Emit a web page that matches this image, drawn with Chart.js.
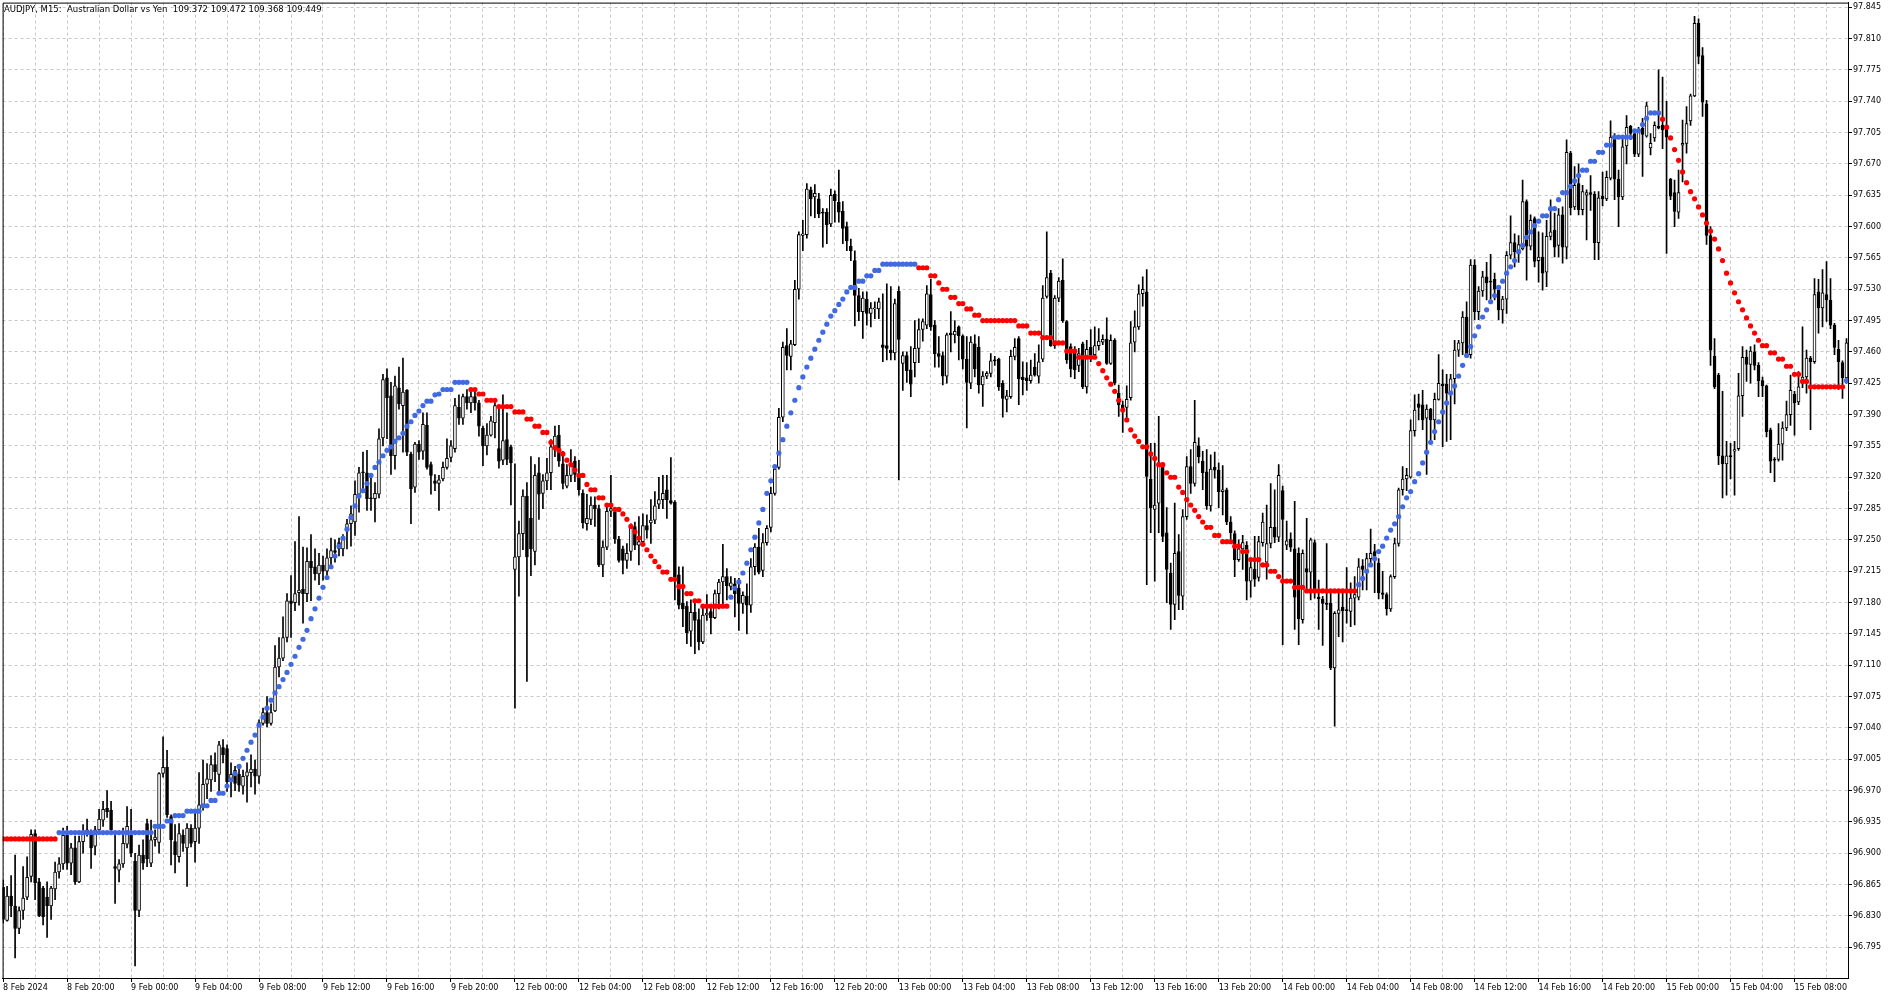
<!DOCTYPE html>
<html><head><meta charset="utf-8">
<script src="https://cdn.jsdelivr.net/npm/chart.js@4.4.1/dist/chart.umd.min.js"></script>
<style>html,body{margin:0;padding:0;background:#fff;}#wrap{width:1900px;height:1000px;position:relative;}</style>
</head><body><div id="wrap"><canvas id="c"></canvas></div>
<script>
const symbolTitle = 'AUDJPY, M15:  Australian Dollar vs Yen  109.372 109.472 109.368 109.449';

// one label every 16 bars (4 hours of M15 bars)
const timeLabels = ['8 Feb 2024','8 Feb 20:00','9 Feb 00:00','9 Feb 04:00','9 Feb 08:00','9 Feb 12:00','9 Feb 16:00','9 Feb 20:00',
  '12 Feb 00:00','12 Feb 04:00','12 Feb 08:00','12 Feb 12:00','12 Feb 16:00','12 Feb 20:00',
  '13 Feb 00:00','13 Feb 04:00','13 Feb 08:00','13 Feb 12:00','13 Feb 16:00','13 Feb 20:00',
  '14 Feb 00:00','14 Feb 04:00','14 Feb 08:00','14 Feb 12:00','14 Feb 16:00','14 Feb 20:00',
  '15 Feb 00:00','15 Feb 04:00','15 Feb 08:00'];

const priceTicks = [96.795,96.830,96.865,96.900,96.935,96.970,97.005,97.040,97.075,97.110,97.145,97.180,97.215,97.250,97.285,
  97.320,97.355,97.390,97.425,97.460,97.495,97.530,97.565,97.600,97.635,97.670,97.705,97.740,97.775,97.810,97.845];

// [open, high, low, close] per M15 bar
const candles = [
[96.862,96.870,96.822,96.826],[96.825,96.863,96.824,96.852],[96.852,96.875,96.829,96.841],[96.841,96.898,96.783,96.816], // 0
[96.816,96.840,96.810,96.836],[96.836,96.885,96.826,96.850],[96.851,96.896,96.848,96.873],[96.874,96.926,96.868,96.921], // 4
[96.922,96.926,96.848,96.867],[96.868,96.872,96.829,96.830],[96.861,96.863,96.820,96.829],[96.851,96.868,96.806,96.841], // 8
[96.841,96.863,96.826,96.861],[96.860,96.890,96.848,96.879],[96.879,96.895,96.872,96.888],[96.888,96.928,96.882,96.920], // 12
[96.920,96.930,96.882,96.889],[96.889,96.911,96.876,96.906],[96.906,96.919,96.865,96.868],[96.868,96.919,96.867,96.913], // 16
[96.913,96.932,96.900,96.925],[96.921,96.938,96.919,96.926],[96.922,96.926,96.883,96.906],[96.908,96.930,96.898,96.926], // 20
[96.926,96.949,96.924,96.938],[96.937,96.958,96.930,96.949],[96.950,96.970,96.940,96.946],[96.948,96.958,96.922,96.926], // 24
[96.885,96.922,96.844,96.883],[96.881,96.893,96.868,96.888],[96.888,96.928,96.884,96.911],[96.910,96.952,96.906,96.930], // 28
[96.920,96.949,96.896,96.900],[96.891,96.900,96.774,96.836],[96.836,96.909,96.829,96.898],[96.898,96.915,96.882,96.889], // 32
[96.933,96.938,96.885,96.894],[96.889,96.937,96.885,96.915],[96.915,96.926,96.908,96.918],[96.912,96.990,96.900,96.989], // 36
[96.989,97.030,96.985,96.996],[96.996,97.015,96.940,96.943],[96.941,96.943,96.887,96.915],[96.913,96.932,96.878,96.898], // 40
[96.896,96.933,96.890,96.922],[96.920,96.926,96.902,96.911],[96.906,96.933,96.863,96.928],[96.928,96.932,96.907,96.911], // 44
[96.913,96.945,96.890,96.928],[96.928,96.990,96.911,96.954],[96.954,97.004,96.948,96.977],[96.977,97.000,96.961,96.983], // 48
[96.982,97.009,96.969,96.999],[96.999,97.012,96.980,96.991],[96.988,97.025,96.969,97.021],[97.018,97.027,97.001,97.010], // 52
[97.017,97.021,96.969,96.980],[96.980,97.001,96.963,96.988],[96.993,96.997,96.970,96.978],[96.988,96.999,96.969,96.976], // 56
[96.975,96.993,96.966,96.986],[96.986,97.001,96.957,96.991],[96.990,97.010,96.974,96.994],[96.994,97.004,96.966,96.986], // 60
[96.986,97.049,96.978,97.046],[97.045,97.062,97.043,97.057],[97.057,97.075,97.041,97.045],[97.045,97.067,97.043,97.057], // 64
[97.059,97.132,97.058,97.108],[97.108,97.141,97.097,97.118],[97.118,97.164,97.115,97.141],[97.141,97.190,97.136,97.182], // 68
[97.182,97.210,97.141,97.179],[97.180,97.248,97.171,97.190],[97.191,97.276,97.177,97.194],[97.195,97.242,97.157,97.190], // 72
[97.190,97.241,97.181,97.226],[97.226,97.256,97.182,97.219],[97.220,97.240,97.205,97.212],[97.212,97.235,97.200,97.222], // 76
[97.222,97.232,97.205,97.215],[97.215,97.240,97.208,97.230],[97.230,97.252,97.222,97.238],[97.238,97.250,97.225,97.236], // 80
[97.247,97.252,97.232,97.240],[97.240,97.256,97.232,97.251],[97.262,97.273,97.240,97.268],[97.268,97.288,97.243,97.279], // 84
[97.270,97.316,97.255,97.301],[97.301,97.331,97.281,97.325],[97.326,97.348,97.303,97.325],[97.325,97.350,97.283,97.296], // 88
[97.297,97.322,97.283,97.296],[97.296,97.314,97.270,97.302],[97.301,97.374,97.297,97.363],[97.364,97.435,97.355,97.429], // 92
[97.431,97.441,97.363,97.409],[97.411,97.426,97.323,97.344],[97.344,97.433,97.329,97.422],[97.420,97.443,97.396,97.402], // 96
[97.400,97.453,97.348,97.415],[97.417,97.418,97.344,97.348],[97.346,97.348,97.268,97.307],[97.309,97.359,97.303,97.357], // 100
[97.357,97.361,97.340,97.348],[97.349,97.392,97.340,97.379],[97.378,97.392,97.329,97.331],[97.334,97.337,97.301,97.322], // 104
[97.316,97.323,97.305,97.313],[97.313,97.322,97.283,97.317],[97.318,97.337,97.316,97.331],[97.331,97.363,97.329,97.341], // 108
[97.342,97.361,97.337,97.355],[97.352,97.408,97.348,97.400],[97.398,97.412,97.379,97.386],[97.386,97.413,97.379,97.410], // 112
[97.410,97.418,97.396,97.403],[97.403,97.418,97.392,97.410],[97.410,97.418,97.395,97.403],[97.403,97.406,97.366,97.377], // 116
[97.375,97.377,97.333,97.355],[97.355,97.380,97.345,97.367],[97.367,97.388,97.366,97.383],[97.381,97.405,97.364,97.400], // 120
[97.352,97.397,97.330,97.338],[97.339,97.412,97.334,97.361],[97.362,97.392,97.334,97.340],[97.354,97.356,97.289,97.336], // 124
[97.217,97.335,97.062,97.231],[97.231,97.271,97.187,97.257],[97.257,97.306,97.239,97.299],[97.299,97.314,97.092,97.231], // 128
[97.274,97.343,97.210,97.240],[97.237,97.334,97.222,97.322],[97.325,97.342,97.273,97.301],[97.302,97.323,97.285,97.316], // 132
[97.316,97.341,97.306,97.325],[97.325,97.362,97.306,97.354],[97.354,97.377,97.343,97.366],[97.367,97.378,97.332,97.338], // 136
[97.335,97.349,97.307,97.313],[97.310,97.334,97.308,97.322],[97.322,97.351,97.315,97.334],[97.338,97.343,97.315,97.323], // 140
[97.323,97.339,97.300,97.306],[97.302,97.306,97.263,97.269],[97.268,97.301,97.261,97.274],[97.273,97.298,97.267,97.289], // 144
[97.289,97.298,97.265,97.285],[97.285,97.289,97.220,97.222],[97.222,97.249,97.209,97.242],[97.242,97.287,97.239,97.282], // 148
[97.282,97.322,97.276,97.285],[97.281,97.284,97.246,97.251],[97.251,97.254,97.225,97.227],[97.240,97.243,97.212,97.227], // 152
[97.227,97.246,97.218,97.235],[97.237,97.268,97.227,97.263],[97.265,97.270,97.239,97.244],[97.244,97.276,97.222,97.248], // 156
[97.248,97.279,97.246,97.266],[97.266,97.278,97.252,97.261],[97.269,97.295,97.246,97.272],[97.272,97.304,97.268,97.288], // 160
[97.290,97.320,97.285,97.295],[97.295,97.322,97.285,97.302],[97.306,97.322,97.274,97.295],[97.294,97.342,97.290,97.291], // 164
[97.292,97.294,97.183,97.209],[97.211,97.220,97.173,97.177],[97.179,97.220,97.153,97.173],[97.176,97.181,97.134,97.146], // 168
[97.148,97.183,97.131,97.169],[97.169,97.183,97.123,97.160],[97.161,97.173,97.127,97.136],[97.136,97.177,97.134,97.166], // 172
[97.166,97.189,97.160,97.168],[97.170,97.176,97.145,97.163],[97.163,97.194,97.162,97.190],[97.190,97.206,97.173,97.203], // 176
[97.203,97.245,97.175,97.209],[97.209,97.218,97.183,97.199],[97.198,97.209,97.194,97.202],[97.201,97.207,97.164,97.190], // 180
[97.196,97.207,97.149,97.179],[97.179,97.192,97.168,97.188],[97.187,97.201,97.145,97.177],[97.177,97.229,97.169,97.220], // 184
[97.220,97.246,97.211,97.242],[97.242,97.263,97.212,97.214],[97.216,97.257,97.209,97.247],[97.247,97.266,97.244,97.263], // 188
[97.264,97.309,97.259,97.302],[97.302,97.332,97.300,97.329],[97.331,97.397,97.329,97.387],[97.387,97.471,97.382,97.465], // 192
[97.467,97.486,97.440,97.456],[97.455,97.473,97.440,97.469],[97.468,97.540,97.467,97.530],[97.530,97.594,97.519,97.591], // 196
[97.590,97.607,97.573,97.592],[97.591,97.648,97.587,97.642],[97.641,97.644,97.612,97.631],[97.633,97.647,97.610,97.637], // 200
[97.631,97.637,97.610,97.614],[97.616,97.620,97.577,97.615],[97.616,97.620,97.581,97.602],[97.603,97.642,97.600,97.635], // 204
[97.636,97.640,97.605,97.629],[97.627,97.663,97.605,97.616],[97.617,97.628,97.581,97.598],[97.600,97.605,97.573,97.584], // 208
[97.578,97.586,97.562,97.573],[97.562,97.573,97.489,97.523],[97.523,97.531,97.495,97.505],[97.505,97.527,97.475,97.520], // 212
[97.519,97.527,97.490,97.503],[97.503,97.515,97.488,97.509],[97.508,97.516,97.497,97.509],[97.508,97.520,97.497,97.516], // 216
[97.468,97.525,97.449,97.465],[97.467,97.536,97.451,97.464],[97.462,97.533,97.451,97.459],[97.459,97.519,97.451,97.514], // 220
[97.528,97.533,97.317,97.474],[97.447,97.460,97.417,97.456],[97.456,97.460,97.426,97.439],[97.440,97.466,97.410,97.424], // 224
[97.448,97.495,97.432,97.464],[97.464,97.497,97.448,97.485],[97.485,97.497,97.472,97.494],[97.490,97.534,97.486,97.525], // 228
[97.524,97.541,97.484,97.488],[97.490,97.495,97.443,97.458],[97.458,97.477,97.443,97.455],[97.456,97.460,97.423,97.433], // 232
[97.433,97.481,97.425,97.479],[97.481,97.505,97.460,97.479],[97.479,97.495,97.470,97.483],[97.488,97.489,97.451,97.478], // 236
[97.478,97.479,97.441,97.452],[97.452,97.477,97.375,97.426],[97.425,97.477,97.419,97.471],[97.469,97.479,97.432,97.441], // 240
[97.465,97.477,97.414,97.423],[97.423,97.438,97.399,97.433],[97.433,97.438,97.430,97.436],[97.436,97.458,97.432,97.450], // 244
[97.451,97.455,97.445,97.450],[97.452,97.453,97.417,97.421],[97.425,97.428,97.387,97.408],[97.407,97.417,97.393,97.411], // 248
[97.410,97.462,97.408,97.455],[97.455,97.475,97.451,97.465],[97.475,97.477,97.401,97.430],[97.432,97.449,97.412,97.429], // 252
[97.431,97.448,97.417,97.428],[97.428,97.451,97.425,97.434],[97.443,97.458,97.433,97.434],[97.433,97.468,97.425,97.449], // 256
[97.452,97.534,97.449,97.520],[97.522,97.594,97.520,97.543],[97.548,97.551,97.466,97.467],[97.467,97.523,97.464,97.520], // 260
[97.520,97.543,97.516,97.539],[97.540,97.564,97.493,97.495],[97.494,97.495,97.447,97.451],[97.466,97.469,97.432,97.441], // 264
[97.463,97.466,97.430,97.440],[97.445,97.464,97.438,97.458],[97.469,97.471,97.419,97.421],[97.421,97.473,97.414,97.463], // 268
[97.465,97.485,97.449,97.457],[97.457,97.488,97.454,97.467],[97.467,97.486,97.462,97.472],[97.471,97.479,97.468,97.474], // 272
[97.474,97.498,97.446,97.447],[97.447,97.479,97.446,97.473],[97.473,97.475,97.423,97.425],[97.414,97.423,97.388,97.401], // 276
[97.401,97.405,97.370,97.395],[97.398,97.422,97.384,97.407],[97.409,97.494,97.406,97.470],[97.471,97.506,97.460,97.488], // 280
[97.488,97.535,97.485,97.525],[97.525,97.544,97.511,97.530],[97.527,97.552,97.200,97.321],[97.318,97.358,97.258,97.286], // 284
[97.284,97.358,97.204,97.289],[97.291,97.388,97.258,97.336],[97.332,97.336,97.248,97.254],[97.258,97.286,97.180,97.217], // 288
[97.213,97.224,97.150,97.178],[97.178,97.291,97.161,97.235],[97.237,97.256,97.172,97.188],[97.187,97.284,97.172,97.276], // 292
[97.276,97.343,97.273,97.332],[97.332,97.351,97.302,97.313],[97.313,97.406,97.310,97.359],[97.355,97.364,97.336,97.343], // 296
[97.338,97.349,97.306,97.325],[97.326,97.351,97.284,97.288],[97.288,97.345,97.282,97.329],[97.331,97.348,97.319,97.328], // 300
[97.328,97.336,97.286,97.304],[97.304,97.333,97.278,97.306],[97.306,97.308,97.267,97.270],[97.270,97.276,97.250,97.258], // 304
[97.257,97.260,97.209,97.228],[97.228,97.250,97.226,97.240],[97.240,97.255,97.217,97.247],[97.244,97.248,97.183,97.204], // 308
[97.204,97.228,97.186,97.219],[97.217,97.254,97.198,97.206],[97.208,97.254,97.204,97.248],[97.247,97.280,97.243,97.270], // 312
[97.225,97.289,97.206,97.246],[97.246,97.313,97.241,97.264],[97.264,97.306,97.247,97.253],[97.253,97.334,97.248,97.322], // 316
[97.305,97.310,97.133,97.273],[97.244,97.271,97.239,97.249],[97.251,97.258,97.237,97.242],[97.240,97.293,97.150,97.186], // 320
[97.235,97.241,97.133,97.162],[97.161,97.239,97.157,97.235],[97.218,97.274,97.191,97.214],[97.214,97.252,97.183,97.250], // 324
[97.247,97.250,97.185,97.191],[97.186,97.205,97.150,97.184],[97.184,97.187,97.132,97.179],[97.179,97.246,97.172,97.178], // 328
[97.179,97.191,97.105,97.107],[97.107,97.170,97.042,97.168],[97.168,97.191,97.142,97.172],[97.175,97.191,97.136,97.171], // 332
[97.172,97.219,97.157,97.171],[97.170,97.202,97.153,97.185],[97.185,97.209,97.155,97.189],[97.186,97.229,97.183,97.220], // 336
[97.221,97.228,97.194,97.217],[97.213,97.235,97.194,97.229],[97.229,97.262,97.221,97.235],[97.237,97.245,97.191,97.232], // 340
[97.224,97.229,97.184,97.191],[97.191,97.215,97.184,97.189],[97.189,97.191,97.166,97.173],[97.173,97.211,97.170,97.209], // 344
[97.209,97.252,97.207,97.246],[97.246,97.308,97.243,97.306],[97.306,97.332,97.300,97.318],[97.318,97.330,97.305,97.322], // 348
[97.320,97.384,97.319,97.372],[97.372,97.412,97.366,97.395],[97.402,97.413,97.384,97.398],[97.401,97.417,97.373,97.384], // 352
[97.386,97.401,97.323,97.396],[97.396,97.397,97.362,97.384],[97.384,97.414,97.362,97.407],[97.407,97.457,97.406,97.425], // 356
[97.424,97.440,97.354,97.422],[97.424,97.435,97.360,97.414],[97.414,97.435,97.362,97.430],[97.430,97.473,97.402,97.462], // 360
[97.462,97.473,97.455,97.470],[97.470,97.505,97.457,97.499],[97.499,97.516,97.455,97.457],[97.457,97.563,97.453,97.557], // 364
[97.557,97.563,97.496,97.505],[97.505,97.533,97.496,97.528],[97.528,97.550,97.522,97.544],[97.544,97.560,97.518,97.537], // 368
[97.539,97.569,97.519,97.538],[97.541,97.548,97.518,97.530],[97.529,97.533,97.496,97.507],[97.507,97.522,97.492,97.519], // 372
[97.519,97.572,97.503,97.568],[97.568,97.612,97.564,97.582],[97.582,97.592,97.555,97.572],[97.572,97.590,97.560,97.580], // 376
[97.575,97.652,97.574,97.628],[97.628,97.630,97.540,97.578],[97.578,97.613,97.574,97.607],[97.609,97.611,97.555,97.561], // 380
[97.562,97.594,97.538,97.566],[97.566,97.593,97.529,97.548],[97.549,97.607,97.533,97.589],[97.589,97.630,97.585,97.594], // 384
[97.596,97.615,97.566,97.577],[97.579,97.620,97.566,97.613],[97.613,97.622,97.559,97.577],[97.577,97.697,97.564,97.683], // 388
[97.682,97.684,97.613,97.621],[97.622,97.667,97.619,97.646],[97.648,97.670,97.613,97.619],[97.619,97.646,97.613,97.639], // 392
[97.635,97.641,97.585,97.638],[97.638,97.657,97.618,97.636],[97.636,97.639,97.563,97.582],[97.582,97.639,97.563,97.632], // 396
[97.634,97.661,97.623,97.631],[97.631,97.662,97.629,97.655],[97.654,97.718,97.652,97.700],[97.699,97.704,97.630,97.653], // 400
[97.653,97.663,97.600,97.633],[97.633,97.702,97.630,97.689],[97.690,97.724,97.670,97.711],[97.712,97.713,97.697,97.704], // 404
[97.704,97.708,97.678,97.681],[97.681,97.711,97.678,97.707],[97.710,97.721,97.656,97.703],[97.701,97.739,97.700,97.735], // 408
[97.688,97.704,97.680,97.693],[97.699,97.717,97.695,97.713],[97.712,97.775,97.709,97.710],[97.713,97.767,97.687,97.708], // 412
[97.710,97.740,97.570,97.700],[97.653,97.654,97.630,97.634],[97.638,97.652,97.600,97.617],[97.616,97.663,97.609,97.638], // 416
[97.691,97.719,97.650,97.693],[97.693,97.734,97.682,97.715],[97.718,97.748,97.713,97.746],[97.746,97.835,97.745,97.827], // 420
[97.827,97.832,97.782,97.790],[97.791,97.800,97.723,97.739],[97.737,97.741,97.580,97.590],[97.590,97.600,97.445,97.462], // 424
[97.455,97.475,97.419,97.421],[97.434,97.436,97.334,97.344],[97.344,97.416,97.297,97.335],[97.335,97.360,97.300,97.344], // 428
[97.344,97.358,97.318,97.343],[97.349,97.360,97.300,97.351],[97.352,97.436,97.350,97.411],[97.411,97.466,97.388,97.454], // 432
[97.454,97.462,97.427,97.446],[97.446,97.466,97.425,97.461],[97.460,97.468,97.440,97.445],[97.445,97.448,97.410,97.428], // 436
[97.428,97.432,97.410,97.422],[97.422,97.423,97.365,97.371],[97.373,97.375,97.325,97.338],[97.340,97.342,97.315,97.339], // 440
[97.340,97.380,97.338,97.357],[97.357,97.382,97.339,97.375],[97.375,97.405,97.372,97.390],[97.390,97.434,97.378,97.417], // 444
[97.413,97.416,97.367,97.403],[97.404,97.438,97.401,97.421],[97.425,97.488,97.420,97.432],[97.432,97.462,97.414,97.453], // 448
[97.453,97.455,97.373,97.449],[97.449,97.542,97.447,97.524],[97.527,97.541,97.481,97.509],[97.509,97.552,97.488,97.526], // 452
[97.524,97.561,97.494,97.518],[97.518,97.542,97.486,97.490],[97.490,97.492,97.457,97.465],[97.463,97.473,97.418,97.449], // 456
[97.448,97.450,97.408,97.431],[97.431,97.475,97.425,97.470]  // 460
];

// trailing-stop dot indicator value per bar
const trailValues = [
96.916,96.916,96.916,96.916,96.916,96.916,96.916,96.916,96.916,96.916,
96.916,96.916,96.916,96.916,96.923,96.923,96.923,96.923,96.923,96.923,
96.923,96.923,96.923,96.923,96.923,96.923,96.923,96.923,96.923,96.923,
96.923,96.923,96.923,96.923,96.923,96.923,96.923,96.923,96.930,96.930,
96.930,96.936,96.936,96.942,96.942,96.942,96.947,96.947,96.947,96.947,
96.953,96.953,96.959,96.959,96.967,96.967,96.975,96.982,96.989,96.997,
97.006,97.015,97.024,97.032,97.043,97.052,97.062,97.071,97.079,97.086,
97.094,97.102,97.111,97.120,97.130,97.139,97.149,97.162,97.173,97.185,
97.197,97.208,97.220,97.232,97.243,97.252,97.262,97.275,97.288,97.299,
97.305,97.313,97.322,97.331,97.337,97.344,97.350,97.354,97.360,97.364,
97.369,97.377,97.382,97.389,97.394,97.400,97.405,97.405,97.412,97.413,
97.418,97.418,97.418,97.426,97.426,97.426,97.426,97.418,97.418,97.413,
97.413,97.406,97.406,97.406,97.399,97.399,97.399,97.399,97.393,97.393,
97.393,97.385,97.385,97.377,97.377,97.370,97.370,97.359,97.353,97.350,
97.346,97.339,97.334,97.328,97.322,97.322,97.312,97.306,97.306,97.297,
97.297,97.289,97.289,97.284,97.284,97.279,97.273,97.265,97.259,97.252,
97.245,97.239,97.232,97.226,97.220,97.214,97.214,97.206,97.206,97.198,
97.198,97.190,97.190,97.182,97.182,97.176,97.176,97.176,97.176,97.176,
97.176,97.176,97.186,97.196,97.203,97.213,97.224,97.239,97.253,97.269,
97.284,97.302,97.316,97.332,97.347,97.362,97.377,97.392,97.406,97.420,
97.432,97.443,97.453,97.463,97.473,97.482,97.491,97.500,97.506,97.513,
97.519,97.527,97.532,97.532,97.539,97.539,97.545,97.545,97.551,97.551,
97.558,97.558,97.558,97.558,97.558,97.558,97.558,97.558,97.558,97.554,
97.554,97.554,97.545,97.545,97.537,97.530,97.530,97.521,97.521,97.514,
97.514,97.508,97.508,97.501,97.501,97.495,97.495,97.495,97.495,97.495,
97.495,97.495,97.495,97.495,97.489,97.489,97.489,97.481,97.481,97.481,
97.476,97.476,97.476,97.470,97.470,97.470,97.461,97.461,97.461,97.454,
97.454,97.454,97.454,97.454,97.447,97.439,97.431,97.424,97.416,97.406,
97.395,97.384,97.373,97.366,97.360,97.354,97.354,97.346,97.341,97.334,
97.334,97.325,97.320,97.320,97.309,97.303,97.295,97.289,97.283,97.276,
97.270,97.264,97.264,97.255,97.255,97.248,97.248,97.248,97.243,97.243,
97.237,97.237,97.228,97.228,97.228,97.222,97.222,97.215,97.215,97.209,
97.204,97.204,97.204,97.197,97.197,97.197,97.193,97.193,97.193,97.193,
97.193,97.193,97.193,97.193,97.193,97.193,97.193,97.193,97.193,97.200,
97.207,97.215,97.222,97.229,97.237,97.243,97.252,97.261,97.268,97.276,
97.287,97.297,97.304,97.315,97.324,97.336,97.348,97.359,97.371,97.382,
97.393,97.403,97.414,97.422,97.433,97.445,97.456,97.466,97.478,97.488,
97.499,97.507,97.516,97.523,97.532,97.539,97.548,97.555,97.562,97.572,
97.579,97.588,97.594,97.601,97.606,97.612,97.612,97.620,97.620,97.630,
97.638,97.638,97.645,97.651,97.657,97.663,97.663,97.673,97.673,97.683,
97.683,97.691,97.691,97.700,97.700,97.700,97.700,97.700,97.707,97.707,
97.714,97.721,97.727,97.727,97.727,97.720,97.711,97.699,97.686,97.674,
97.661,97.649,97.639,97.631,97.622,97.613,97.604,97.595,97.586,97.575,
97.562,97.548,97.537,97.526,97.516,97.507,97.498,97.489,97.481,97.473,
97.467,97.467,97.459,97.459,97.452,97.452,97.444,97.444,97.435,97.435,
97.427,97.427,97.421,97.421,97.421,97.421,97.421,97.421,97.421,97.421,
97.421,97.428
];

// bar-index ranges where the indicator is in up-trend (blue); all others are red
const trailUpRanges = [[14,116],[182,228],[339,414],[461,461]];

const FONT = '"DejaVu Sans", Verdana, sans-serif';
const n = candles.length;

const wickData = candles.map((c,i) => ({x:i, y:[Math.min(c[2],c[0],c[3]), Math.max(c[1],c[0],c[3])]}));
const bodyData = candles.map((c,i) => ({x:i, y:[c[0], c[3]]}));
const bodyFill = candles.map(c => c[3] > c[0] ? '#ffffff' : '#000000');
const isUp = i => trailUpRanges.some(r => i >= r[0] && i <= r[1]);
const dotData = trailValues.map((v,i) => ({x:i, y:v}));
const dotColors = trailValues.map((v,i) => isUp(i) ? '#4169E1' : '#FF0000');

const framePlugin = {
  id: 'frame',
  afterDraw(chart) {
    const {ctx, chartArea: a} = chart;
    ctx.save();
    ctx.strokeStyle = '#000';
    ctx.lineWidth = 1;
    ctx.beginPath();
    ctx.moveTo(a.left + 0.5, a.bottom);
    ctx.lineTo(a.left + 0.5, a.top + 0.5);
    ctx.lineTo(a.right, a.top + 0.5);
    ctx.stroke();
    ctx.font = '8.5px ' + FONT;
    ctx.fillStyle = '#000';
    ctx.textBaseline = 'middle';
    ctx.textAlign = 'left';
    ctx.fillText(symbolTitle, 4, 9.5);
    ctx.restore();
  }
};

new Chart(document.getElementById('c'), {
  type: 'bar',
  data: { datasets: [
    { type:'line', data: dotData, showLine:false, pointRadius:2.6, pointHoverRadius:2.6,
      pointBackgroundColor: dotColors, pointBorderWidth:0, order:0 },
    { type:'bar', data: bodyData, barThickness:3, backgroundColor: bodyFill, borderColor:'#000',
      borderWidth:1, borderSkipped:false, grouped:false, minBarLength:1, order:1 },
    { type:'bar', data: wickData, barThickness:1, backgroundColor:'#000', borderWidth:0,
      grouped:false, order:2 }
  ]},
  options: {
    responsive:true, maintainAspectRatio:false, animation:false, events:[],
    layout: { padding: {left:2, top:2, right:0, bottom:0} },
    plugins: { legend:{display:false}, tooltip:{enabled:false} },
    scales: {
      x: {
        type:'linear', position:'bottom', min:-0.125, max:461.375, offset:false,
        afterBuildTicks: s => { const t = []; for (let v = 0; v < n; v += 8) t.push({value:v}); s.ticks = t; },
        afterFit: s => { s.height = 22; s.paddingLeft = 0; s.paddingRight = 0; },
        ticks: { autoSkip:false, maxRotation:0, minRotation:0, align:'start', padding:1, color:'#000',
          font:{family:FONT, size:8}, callback: v => (v % 16 === 0 ? timeLabels[v/16] : '') },
        grid: { color:'#c8c8c8', offset:false, drawTicks:true, tickLength:4, tickBorderDash:[],
          tickColor: c => (c.tick && c.tick.value % 16 === 0) ? '#000' : 'rgba(0,0,0,0)' },
        border: { display:true, color:'#000', width:1, dash:[3,3] }
      },
      y: {
        type:'linear', position:'right', min:96.7606, max:97.8502,
        afterBuildTicks: s => { s.ticks = priceTicks.map(v => ({value:v})); },
        afterFit: s => { s.width = 52; s.paddingTop = 0; s.paddingBottom = 0; },
        ticks: { padding:1, color:'#000', font:{family:FONT, size:8}, callback: v => Number(v).toFixed(3) },
        grid: { color:'#c8c8c8', drawTicks:true, tickLength:4, tickColor:'#000', tickBorderDash:[] },
        border: { display:true, color:'#000', width:1, dash:[3,3] }
      }
    }
  },
  plugins: [framePlugin]
});
</script>
</body></html>
